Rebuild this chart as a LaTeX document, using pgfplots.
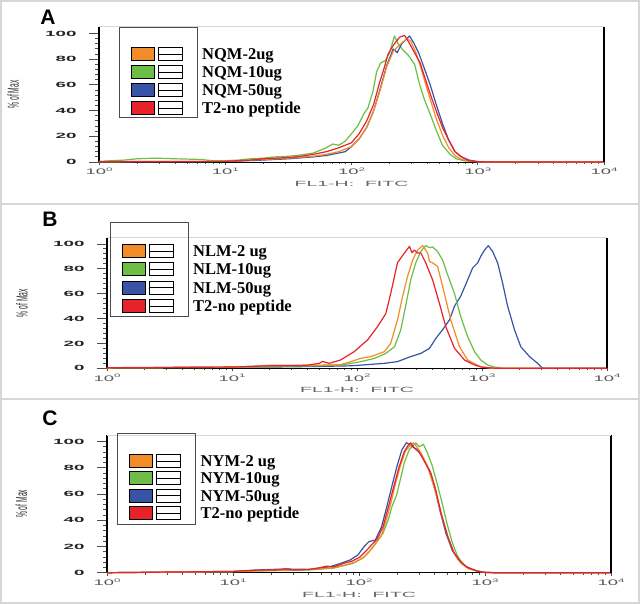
\documentclass[border=0pt]{standalone}
\usepackage{fontspec}
\setmainfont{Liberation Serif}
\newfontfamily\arial{Liberation Sans}
\usepackage{graphicx}
\usepackage{pgfplots}
\pgfplotsset{compat=1.18}

\definecolor{cOrange}{RGB}{242,140,40}
\definecolor{cGreen}{RGB}{108,190,70}
\definecolor{cBlue}{RGB}{58,84,165}
\definecolor{cRed}{RGB}{232,34,42}
\definecolor{frameGray}{RGB}{215,215,215}

% stretched tick labels, like the cytometer export
\newcommand\xl[1]{\scalebox{2.3}[1]{10}\raisebox{3.2pt}{\scalebox{2.3}[1]{\fontsize{5}{5}\selectfont #1}}}
\newcommand\yl[1]{\scalebox{2.5}[1]{#1}}

\pgfplotsset{
  every axis/.append style={
    scale only axis, xmin=1, xmax=10000, ymin=0, ymax=105,
    axis lines*=left, clip=false,
    x axis line style={line width=0.9pt, black},
    y axis line style={line width=1.6pt, black},
    tick align=outside,
    major tick length=10pt, minor tick length=4pt,
    xtick style={line width=0.8pt, black!70, /pgfplots/major tick length=3pt, /pgfplots/minor tick length=2pt},
    ytick style={line width=0.8pt, black!70},
    xtick={1,10,100,1000,10000},
    xticklabels={\xl{0},\xl{1},\xl{2},\xl{3},\xl{4}},
    ytick={0,20,40,60,80,100},
    yticklabels={\yl{0},\yl{20},\yl{40},\yl{60},\yl{80},\yl{100}},
    minor y tick num=4,
    xticklabel style={font=\arial\fontsize{8}{8}\selectfont, text=black!65, inner sep=1pt, yshift=5pt},
    yticklabel style={font=\arial\bfseries\fontsize{7.5}{8}\selectfont, text=black!85, xshift=-9pt},
    xlabel={\scalebox{2.6}[1]{FL1-H:\ \ FITC}},
    xlabel style={font=\arial\fontsize{7.5}{8}\selectfont, text=black!60, inner sep=0pt, at={(axis description cs:0.5,0)}, anchor=center, yshift=-22pt},
    ylabel={\scalebox{0.42}[1]{\% of Max}},
    ylabel style={font=\arial\fontsize{16}{16}\selectfont, text=black!80, at={(axis description cs:-0.17,0.5)}, anchor=center},
  },
  every axis plot/.append style={line width=1.2pt, line join=round},
}

\newcommand\facslegend[9]{%
  \draw[black!70, line width=0.7pt] (#1,-#2) rectangle ({#1+78},-#3);
  \foreach \c/\t [count=\i from 0] in {cOrange/{#6}, cGreen/{#7}, cBlue/{#8}, cRed/{#9}} {
    \pgfmathsetmacro\yy{-(#4+#5*\i)}
    \filldraw[fill=\c, draw=black, line width=0.9pt] ({#1+12},\yy-6.5) rectangle ({#1+35},\yy+6.5);
    \draw[black, line width=0.9pt, fill=white] ({#1+39},\yy-6.5) rectangle ({#1+63},\yy+6.5);
    \draw[black, line width=0.6pt] ({#1+39},\yy) -- ({#1+63},\yy);
    \node[anchor=base west, inner sep=0pt, font=\bfseries\fontsize{16.5}{18}\selectfont] at ({#1+83},\yy-5.5) {\t};
  }
}

\begin{document}
\begin{tikzpicture}[x=1pt,y=1pt]
\useasboundingbox (0,0) rectangle (640,-604);
\fill[white] (0,0) rectangle (640,-604);
\draw[frameGray, line width=2pt] (1,-1) rectangle (639,-603);
\draw[frameGray, line width=2pt] (0,-204) -- (640,-204);
\draw[frameGray, line width=2pt] (0,-399) -- (640,-399);

\node[font=\arial\bfseries\fontsize{21}{21}\selectfont] at (48,-17.5) {A};
\node[font=\arial\bfseries\fontsize{21}{21}\selectfont] at (50,-219.5) {B};
\node[font=\arial\bfseries\fontsize{21}{21}\selectfont] at (50,-418) {C};

% ---------- panel A ----------
\begin{axis}[xmode=log, at={(99pt,-162pt)}, anchor=south west, width=505pt, height=135pt]
\addplot[cGreen] coordinates {
 (1,0.5)(1.6,1.5)(2,2.5)(2.8,3)(4,2.5)(6.3,2)(8,1)(10,1)(12.6,1.5)(15.8,2.5)(20,3)(25,4)
 (32,4.5)(40,5.5)(50,7)(56,9)(63,11)(71,14)(79,13)(89,16)(100,22)(112,28)(126,38)(135,42)
 (148,55)(158,70)(170,77)(186,79)(200,85)(219,98)(234,92)(251,88)(282,83)(316,76)(347,60)
 (380,48)(417,38)(468,25)(525,13)(603,6)(676,2.5)(794,0.8)(1000,0.2)(10000,0)};
\addplot[cBlue] coordinates {
 (1,0)(10,0.3)(20,1.5)(32,2.5)(50,4)(63,5)(79,7)(89,8)(100,12)(115,18)(132,27)(150,40)
 (170,58)(190,75)(214,88)(230,85)(250,92)(275,96)(288,98)(310,93)(340,85)(380,72)(420,60)
 (468,45)(525,30)(589,17)(661,8)(741,4)(850,1.5)(1000,0.3)(1200,0)(10000,0)};
\addplot[cOrange] coordinates {
 (1,0.2)(5,0.5)(10,0.5)(16,1.5)(20,2)(32,3)(50,4.5)(63,6)(79,8)(100,12)(115,18)(132,27)
 (150,40)(170,57)(190,74)(214,86)(240,91)(260,94)(275,96)(295,94)(324,85)(350,75)(380,63)
 (420,49)(468,34)(525,21)(589,11)(661,5)(741,2)(900,0.5)(1100,0)(10000,0)};
\addplot[cRed] coordinates {
 (1,0.3)(10,0.5)(16,1.5)(20,2.5)(25,3)(32,3.5)(40,4.5)(50,6)(63,8)(79,11)(100,15)(115,22)
 (132,32)(150,45)(166,61)(180,72)(195,84)(215,91)(240,97)(263,98.5)(285,93)(324,83)(350,77)
 (380,66)(420,53)(468,40)(525,27)(589,17)(661,8)(741,4)(830,1.5)(933,0.5)(1200,0)(10000,0)};
\draw[line width=1.6pt] (rel axis cs:1,0) -- (rel axis cs:1,1);
\draw[frameGray, line width=1pt] (rel axis cs:0,1) -- (rel axis cs:1,1);
\end{axis}
\facslegend{119}{27}{117}{54}{18}{NQM-2ug}{NQM-10ug}{NQM-50ug}{T2-no peptide}

% ---------- panel B ----------
\begin{axis}[xmode=log, at={(107pt,-368.3pt)}, anchor=south west, width=500pt, height=130.6pt]
\addplot[cBlue] coordinates {
 (1,0.3)(10,1)(20,1)(50,1.5)(89,2)(123,3)(166,4)(211,5.4)(269,9.4)(324,12)(380,16)(427,24)
 (484,31)(550,39)(603,50)(676,58)(767,71)(841,80.6)(923,84.7)(977,90)(1047,95)(1122,98.6)
 (1216,94)(1334,84.7)(1462,68.5)(1603,50)(1820,31)(2042,17.4)(2399,9.4)(2786,4)(3020,0.5)
 (3300,0)(10000,0)};
\addplot[cGreen] coordinates {
 (1,0.3)(10,0.8)(20,1.5)(50,2)(79,3)(107,5.3)(138,8)(170,12)(200,17.4)(224,31)(245,50)
 (269,71)(295,84.7)(324,94)(355,98.6)(380,97)(403,97.5)(441,94)(484,87)(525,76.6)(603,60)
 (676,41.6)(767,25.5)(871,13.4)(977,6.7)(1109,2.7)(1259,1)(1500,0)(10000,0)};
\addplot[cOrange] coordinates {
 (1,0.3)(10,0.8)(20,2.5)(30,2.5)(50,2.5)(74,3)(89,5.3)(107,8)(129,9.4)(166,13.4)(186,20)
 (211,39)(232,58)(254,74)(279,87)(305,95)(335,98.6)(367,92.7)(380,86)(403,84.7)(441,82)
 (484,66)(562,39)(661,17.4)(767,6.7)(977,1)(1200,0)(10000,0)};
\addplot[cRed] coordinates {
 (1,0.5)(10,1)(20,2)(28,2)(40,2.5)(50,4)(53,5.5)(60,4)(74,6.7)(95,13.4)(122,23)(146,33.5)
 (170,44)(186,60)(211,85)(245,94)(263,98)(275,93)(288,95)(305,92.7)(324,92.7)(355,84.7)
 (403,71)(457,52)(513,33.5)(603,16)(724,6.7)(871,2.7)(1000,1)(1300,0)(10000,0)};
\draw[line width=1.6pt] (rel axis cs:1,0) -- (rel axis cs:1,1);
\draw[frameGray, line width=1pt] (rel axis cs:0,1) -- (rel axis cs:1,1);
\end{axis}
\facslegend{110}{222}{316}{251}{18.3}{NLM-2 ug}{NLM-10ug}{NLM-50ug}{T2-no peptide}

% ---------- panel C ----------
\begin{axis}[xmode=log, at={(107pt,-572.7pt)}, anchor=south west, width=504pt, height=137.7pt]
\addplot[cGreen] coordinates {
 (1,0)(10,0.8)(20,1.5)(40,2)(63,3.5)(89,7)(110,12)(126,18)(141,25)(155,30)(170,40)(182,50)
 (200,60)(214,72)(229,84)(251,94)(282,99)(302,96)(324,98)(347,92)(380,82)(417,68)(457,53)
 (501,37)(550,23)(603,13)(676,6)(776,2.5)(933,0.7)(1100,0)(10000,0)};
\addplot[cBlue] coordinates {
 (1,0)(10,1)(15,2)(20,2.5)(27,2.8)(40,2.5)(48,3)(59,4.6)(71,7)(85,9.7)(98,13.5)(110,20)
 (120,23.7)(135,25)(151,35)(166,50)(182,65.6)(200,81)(219,93.7)(238,99.2)(257,97)(288,94)
 (316,89)(363,78)(398,65)(437,48)(490,30)(550,17)(617,9.7)(708,4.6)(851,1.5)(980,0.3)
 (1200,0)(10000,0)};
\addplot[cOrange] coordinates {
 (1,0)(10,0.8)(20,1.8)(30,2)(50,3)(63,4)(79,6)(95,8.5)(107,11)(120,16)(135,22)(150,28)
 (162,38)(178,52)(195,68)(214,82)(234,93)(255,97)(269,99)(288,96)(316,90)(347,82)(380,70)
 (417,57)(457,42)(513,26)(575,14)(646,7)(741,3)(891,1)(1050,0.1)(1300,0)(10000,0)};
\addplot[cRed] coordinates {
 (1,0)(10,1)(16,2)(22,2)(26,3)(30,2)(40,2.5)(50,4)(55,5)(63,4.5)(75,7)(89,9)(102,12)
 (115,17)(128,22)(140,26)(155,35)(171,50)(188,65)(207,80)(228,92)(245,97)(257,99)(275,95)
 (300,92)(330,85)(372,76)(407,63)(447,46)(501,29)(562,16)(631,9)(724,4)(871,1.2)(1000,0.2)
 (1200,0)(10000,0)};
\draw[line width=1.6pt] (rel axis cs:1,0) -- (rel axis cs:1,1);
\draw[frameGray, line width=1pt] (rel axis cs:0,1) -- (rel axis cs:1,1);
\end{axis}
\facslegend{117.5}{433}{524}{461}{17.3}{NYM-2 ug}{NYM-10ug}{NYM-50ug}{T2-no peptide}
\end{tikzpicture}
\end{document}
